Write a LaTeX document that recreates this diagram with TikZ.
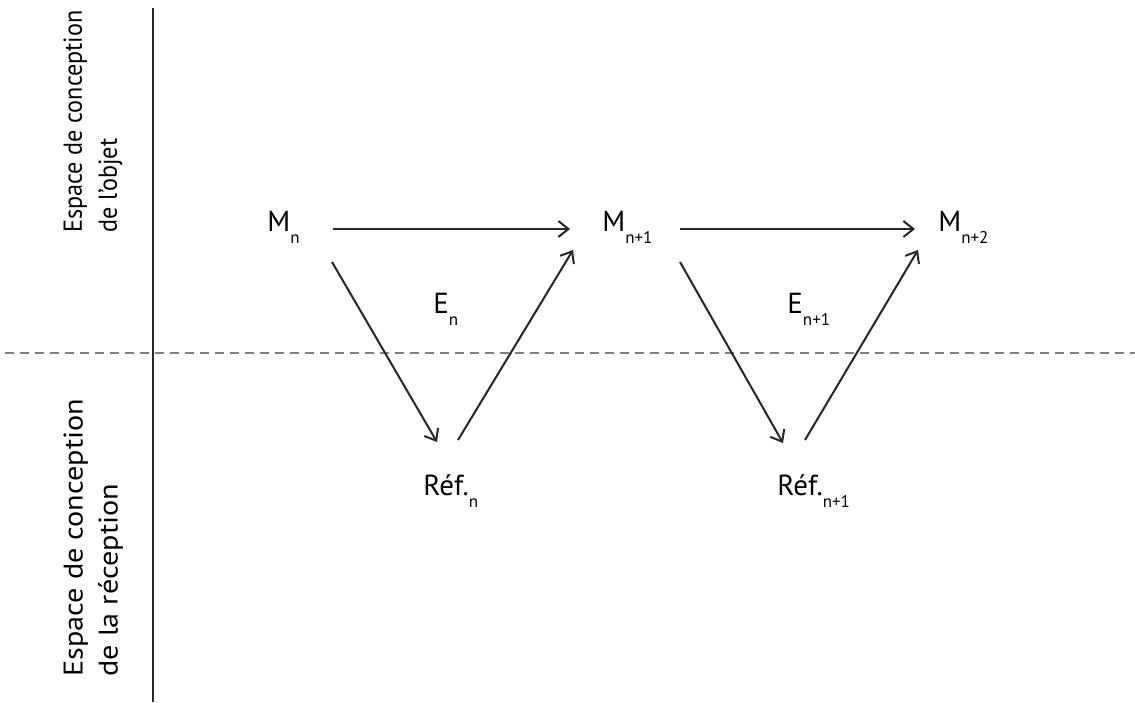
\documentclass[tikz,border=0pt]{standalone}
\usepackage{fontspec}
\setmainfont{PT Sans}
\usetikzlibrary{arrows.meta}
\newcommand{\subidx}[1]{\raisebox{-0.42em}{\fontsize{8.5}{9}\selectfont #1}}

\begin{document}
\begin{tikzpicture}[x=0.5pt, y=-0.5pt,
    lbl/.style={font=\fontsize{14.5}{17}\selectfont, inner sep=0pt, anchor=base west},
    side/.style={align=left, rotate=90, anchor=north west, inner sep=0pt},
    arr/.style={-{Straight Barb[length=5pt,width=8pt]}, line width=1pt, black!85}]
        \useasboundingbox (0,0) rectangle (1135,702);

        % the two spaces
        \draw[line width=1pt, black!85] (153,8) -- (153,702);
        \draw[line width=1pt, gray, dash pattern=on 4.5pt off 3pt] (5,353) -- (1135,353);
        \node[side, font=\fontsize{13}{17.5}\selectfont\addfontfeatures{FakeStretch=0.93}] (objet) at (63,233) {Espace de conception\\de l'objet};
        \node[side, font=\fontsize{13.5}{17.5}\selectfont\addfontfeatures{FakeStretch=1.12}] (reception) at (63,677) {Espace de conception\\de la réception};

        \node[lbl] (mn) at (267,231) {M\subidx{n}};
        \node[lbl] (mn1) at (602,231) {M\subidx{n+1}};
        \node[lbl] (mn2) at (938,231) {M\subidx{n+2}};
        \node[lbl] (en) at (433,313) {E\subidx{n}};
        \node[lbl] (en1) at (787,313) {E\subidx{n+1}};
        \node[lbl] (refn) at (423,495) {Réf.\subidx{n}};
        \node[lbl] (refn1) at (777,495) {Réf.\subidx{n+1}};

        \draw[arr] ([shift={(66,-2)}]mn.base west) -- ([shift={(-32,-2)}]mn1.base west);
        \draw[arr] ([shift={(65,31)}]mn.base west) -- ([shift={(14,-53)}]refn.base west);
        \draw[arr] ([shift={(35,-55)}]refn.base west) -- ([shift={(-29,19)}]mn1.base west);

        \draw[arr] ([shift={(78,-2)}]mn1.base west) -- ([shift={(-23,-2)}]mn2.base west);
        \draw[arr] ([shift={(78,31)}]mn1.base west) -- ([shift={(6,-52)}]refn1.base west);
        \draw[arr] ([shift={(28,-55)}]refn1.base west) -- ([shift={(-20,19)}]mn2.base west);
      \end{tikzpicture}
\end{document}
